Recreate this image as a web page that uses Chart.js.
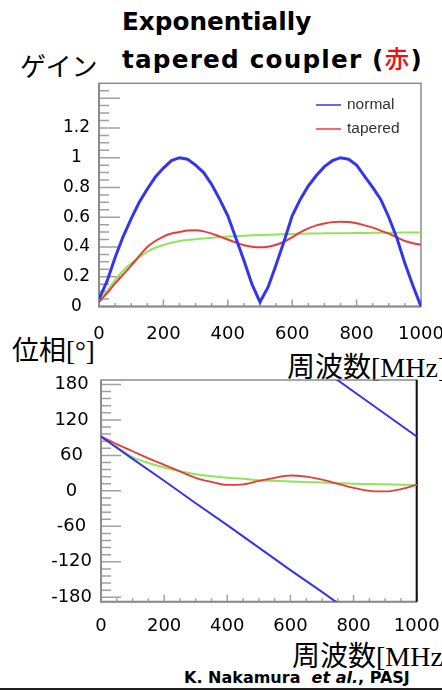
<!DOCTYPE html>
<html lang="ja">
<head>
<meta charset="utf-8">
<title>Exponentially tapered coupler</title>
<script src="https://cdn.jsdelivr.net/npm/chart.js@4.4.1/dist/chart.umd.min.js"></script>
<style>
  html, body { margin: 0; padding: 0; background: #fff; }
  body { position: relative; width: 442px; height: 691px; overflow: hidden; }
  canvas { position: absolute; left: 0; }
  #gainChart { top: 0; }
  #phaseChart { top: 350px; }
  .txt { position: absolute; white-space: nowrap; color: #000; line-height: 1; }
  .jp { font-family: "Noto Sans CJK JP", sans-serif; }
  .serif { font-family: "Liberation Serif", "DejaVu Serif", serif; }
  .title { font-family: "DejaVu Sans", "Noto Sans CJK JP", sans-serif; font-weight: bold; font-size: 24.7px; left: 122px; }
  .red { color: #ee1111; font-family: "Noto Sans CJK JP", sans-serif; font-weight: 500; }
  .cite { font-family: "DejaVu Sans", sans-serif; font-weight: bold; font-size: 16px; left: 184px; top: 670px; }
  .rule { position: absolute; left: 0; top: 688px; width: 442px; height: 2px; background: #222; }
</style>
</head>
<body>
<div class="txt title" style="top:10px">Exponentially</div>
<div class="txt title" style="top:45px; letter-spacing:1.2px">tapered coupler (<span class="red">赤</span>)</div>
<div class="txt jp" style="left:20px; top:52px; font-size:26px">ゲイン</div>
<div class="txt jp" style="left:12px; top:335px; font-size:27px">位相<span class="serif">[°]</span></div>
<div class="txt jp" style="left:287px; top:351px; font-size:28px">周波数<span class="serif">[MHz]</span></div>
<div class="txt jp" style="left:292px; top:640px; font-size:28px">周波数<span class="serif">[MHz]</span></div>
<div class="txt cite">K. Nakamura&nbsp; <i>et al.</i>, PASJ</div>
<div class="rule"></div>

<canvas id="gainChart" width="442" height="350"></canvas>
<canvas id="phaseChart" width="442" height="341"></canvas>

<script>
// frequency grid of the gain curves [MHz]
const gainFreq = [
  0, 25, 50, 75, 100, 125, 150, 175, 200, 225,
  250, 275, 300, 325, 350, 375, 400, 425, 450, 475,
  500, 525, 550, 575, 600, 625, 650, 675, 700, 725,
  750, 775, 800, 825, 850, 875, 900, 925, 950, 975, 1000,
];
const gainNormal = [
  0.05, 0.17, 0.33, 0.47, 0.59, 0.7, 0.79, 0.87, 0.93, 0.98,
  1.0, 0.99, 0.95, 0.9, 0.82, 0.72, 0.61, 0.46, 0.31, 0.15,
  0.03, 0.13, 0.28, 0.44, 0.61, 0.72, 0.81, 0.88, 0.94, 0.98,
  1.0, 0.99, 0.95, 0.875, 0.8, 0.72, 0.6, 0.46, 0.29, 0.14, 0.0,
];
const gainTapered = [
  0.03, 0.09, 0.155, 0.215, 0.275, 0.34, 0.4, 0.44, 0.47, 0.49,
  0.5, 0.51, 0.512, 0.505, 0.49, 0.47, 0.45, 0.43, 0.412, 0.402,
  0.398, 0.402, 0.415, 0.435, 0.465, 0.498, 0.525, 0.545, 0.558, 0.567,
  0.57, 0.568, 0.56, 0.545, 0.53, 0.51, 0.49, 0.465, 0.44, 0.425, 0.415,
];
const gainGreen = [
  0.03, 0.105, 0.178, 0.24, 0.29, 0.33, 0.368, 0.395, 0.413, 0.428,
  0.44, 0.447, 0.452, 0.457, 0.462, 0.466, 0.47, 0.473, 0.476, 0.478,
  0.48, 0.482, 0.484, 0.486, 0.488, 0.489, 0.49, 0.491, 0.492, 0.492,
  0.493, 0.493, 0.494, 0.494, 0.495, 0.495, 0.496, 0.496, 0.497, 0.497, 0.498,
];
const gainTicks = [0, 0.2, 0.4, 0.6, 0.8, 1, 1.2];

// phase [deg]
const phaseFreq = [
  0, 50, 100, 150, 200, 250, 300, 350, 400, 450,
  500, 550, 600, 650, 700, 750, 800, 850, 900, 950, 1000,
];
const phaseTapered = [
  92, 79, 67, 55, 44, 33, 22, 15, 10, 11,
  17, 22, 26, 24, 19, 12, 5, 0, -1, 3, 10,
];
const phaseGreen = [
  91, 74, 57, 47, 39.5, 33, 28, 24.5, 22, 20.5,
  18, 17, 16, 15, 14, 13, 12, 11.5, 11, 10.5, 10,
];
// the normal coupler phase wraps from -180 to +180
const phaseNormalFreq = [0, 100, 200, 300, 400, 500, 600, 700, 750];
const phaseNormal = [92, 54, 17, -21, -58, -96, -134, -171, -190];
const phaseNormalWrapFreq = [745, 800, 900, 1000];
const phaseNormalWrap = [189, 168, 130, 92];
const phaseTicks = [-180, -120, -60, 0, 60, 120, 180];

const freqTicks = [0, 200, 400, 600, 800, 1000];

const BLUE = "#3535ee";
const RED = "#e83c3c";
const GREEN = "#8ee658";

const xy = (xs, ys) => xs.map((x, i) => ({ x: x, y: ys[i] }));

// keep the plot frame fixed: labels may hang over the margins
const fixX = (h) => (s) => { s.height = h; s.paddingLeft = 0; s.paddingRight = 0; };
const fixY = (w) => (s) => { s.width = w; s.paddingTop = 0; s.paddingBottom = 0; };

// inward tick marks and frame, like a ROOT canvas
const frameTicks = {
  id: "frameTicks",
  beforeDatasetsDraw(chart, args, opts) {
    const { ctx, chartArea: a, scales } = chart;
    ctx.save();
    ctx.strokeStyle = opts.tickColor;
    ctx.lineWidth = 1.5;
    ctx.beginPath();
    const yt = opts.y;
    const ny = Math.round((yt.to - yt.from) / yt.step);
    for (let i = 0; i <= ny; i++) {
      const py = scales.y.getPixelForValue(yt.from + i * yt.step);
      const len = i % yt.every === 0 ? yt.major : yt.minor;
      ctx.moveTo(a.left, py);
      ctx.lineTo(a.left + len, py);
    }
    const xt = opts.x;
    const nx = Math.round((xt.to - xt.from) / xt.step);
    for (let i = 0; i <= nx; i++) {
      const px = scales.x.getPixelForValue(xt.from + i * xt.step);
      const len = i % xt.every === 0 ? xt.major : xt.minor;
      ctx.moveTo(px, a.bottom);
      ctx.lineTo(px, a.bottom - len);
    }
    ctx.stroke();

    ctx.strokeStyle = opts.frameColor;
    ctx.lineWidth = 1.5;
    ctx.strokeRect(a.left, a.top, a.right - a.left, a.bottom - a.top);
    ctx.lineWidth = 2;
    ctx.beginPath();
    ctx.moveTo(a.left, a.top);
    ctx.lineTo(a.left, a.bottom);
    ctx.lineTo(a.right, a.bottom);
    ctx.stroke();
    if (opts.rightColor) {
      ctx.strokeStyle = opts.rightColor;
      ctx.beginPath();
      ctx.moveTo(a.right, a.top);
      ctx.lineTo(a.right, a.bottom);
      ctx.stroke();
    }
    ctx.restore();
  },
};

// small legend drawn inside the plot frame
const innerLegend = {
  id: "innerLegend",
  afterDatasetsDraw(chart, args, opts) {
    if (!opts.display) return;
    const { ctx } = chart;
    ctx.save();
    ctx.font = opts.font;
    ctx.textBaseline = "middle";
    ctx.fillStyle = opts.color;
    let y = opts.top;
    chart.data.datasets.forEach((ds) => {
      if (!ds.label) return;
      ctx.strokeStyle = ds.borderColor;
      ctx.lineWidth = 1.5;
      ctx.beginPath();
      ctx.moveTo(opts.left, y);
      ctx.lineTo(opts.left + opts.lineLength, y);
      ctx.stroke();
      ctx.fillText(ds.label, opts.left + opts.lineLength + 6, y);
      y += opts.spacing;
    });
    ctx.restore();
  },
};

Chart.defaults.font.family = "'DejaVu Sans', sans-serif";
Chart.defaults.color = "#000";

new Chart(document.getElementById("gainChart"), {
  type: "line",
  data: {
    datasets: [
      {
        label: "normal",
        data: xy(gainFreq, gainNormal),
        borderColor: BLUE,
        borderWidth: 3,
        pointRadius: 0,
        tension: 0,
      },
      {
        label: "tapered",
        data: xy(gainFreq, gainTapered),
        borderColor: RED,
        borderWidth: 2,
        pointRadius: 0,
        cubicInterpolationMode: "monotone",
      },
      {
        label: "",
        data: xy(gainFreq, gainGreen),
        borderColor: GREEN,
        borderWidth: 2,
        pointRadius: 0,
        cubicInterpolationMode: "monotone",
      },
    ],
  },
  plugins: [frameTicks, innerLegend],
  options: {
    responsive: false,
    animation: false,
    layout: { padding: { top: 83.3, right: 21, left: 0, bottom: 0 } },
    scales: {
      x: {
        type: "linear",
        min: 0,
        max: 1000,
        afterBuildTicks: (s) => { s.ticks = freqTicks.map((v) => ({ value: v })); },
        afterFit: fixX(43.5),
        grid: { display: false, drawTicks: false },
        border: { display: false },
        ticks: { font: { size: 18 }, padding: 17, maxRotation: 0, callback: (v) => String(v) },
      },
      y: {
        min: 0,
        max: 1.5,
        afterBuildTicks: (s) => { s.ticks = gainTicks.map((v) => ({ value: v })); },
        afterFit: fixY(99),
        grid: { display: false, drawTicks: false },
        border: { display: false },
        ticks: { font: { size: 17 }, padding: 9, crossAlign: "center", callback: (v) => String(v) },
      },
    },
    plugins: {
      legend: { display: false },
      tooltip: { enabled: false },
      frameTicks: {
        tickColor: "#a0a0a0",
        frameColor: "#8c8c8c",
        x: { from: 0, to: 1000, step: 50, every: 4, major: 7, minor: 3.5 },
        y: { from: 0, to: 1.45, step: 0.05, every: 4, major: 21, minor: 10 },
      },
      innerLegend: {
        display: true,
        left: 316,
        top: 105,
        spacing: 24,
        lineLength: 25,
        font: "15.5px 'Liberation Sans', Arial, sans-serif",
        color: "#333",
      },
    },
  },
});

new Chart(document.getElementById("phaseChart"), {
  type: "line",
  data: {
    datasets: [
      {
        label: "normal",
        data: xy(phaseNormalFreq, phaseNormal),
        borderColor: BLUE,
        borderWidth: 2,
        pointRadius: 0,
      },
      {
        label: "normal",
        data: xy(phaseNormalWrapFreq, phaseNormalWrap),
        borderColor: BLUE,
        borderWidth: 2,
        pointRadius: 0,
      },
      {
        label: "tapered",
        data: xy(phaseFreq, phaseTapered),
        borderColor: RED,
        borderWidth: 1.8,
        pointRadius: 0,
        cubicInterpolationMode: "monotone",
      },
      {
        label: "",
        data: xy(phaseFreq, phaseGreen),
        borderColor: GREEN,
        borderWidth: 2,
        pointRadius: 0,
        cubicInterpolationMode: "monotone",
      },
    ],
  },
  plugins: [frameTicks],
  options: {
    responsive: false,
    animation: false,
    layout: { padding: { top: 30, right: 25.3, left: 0, bottom: 0 } },
    scales: {
      x: {
        type: "linear",
        min: 0,
        max: 1000,
        afterBuildTicks: (s) => { s.ticks = freqTicks.map((v) => ({ value: v })); },
        afterFit: fixX(89.3),
        grid: { display: false, drawTicks: false },
        border: { display: false },
        ticks: { font: { size: 18 }, padding: 14, maxRotation: 0, callback: (v) => String(v) },
      },
      y: {
        min: -187.5,
        max: 187.5,
        afterBuildTicks: (s) => { s.ticks = phaseTicks.map((v) => ({ value: v })); },
        afterFit: fixY(101),
        grid: { display: false, drawTicks: false },
        border: { display: false },
        ticks: { font: { size: 18 }, padding: 9, crossAlign: "center", callback: (v) => String(v) },
      },
    },
    plugins: {
      legend: { display: false },
      tooltip: { enabled: false },
      frameTicks: {
        tickColor: "#a0a0a0",
        frameColor: "#8c8c8c",
        rightColor: "#111",
        x: { from: 0, to: 1000, step: 50, every: 4, major: 7, minor: 3.5 },
        y: { from: -180, to: 180, step: 12, every: 5, major: 20, minor: 10 },
      },
    },
  },
});
</script>
</body>
</html>
